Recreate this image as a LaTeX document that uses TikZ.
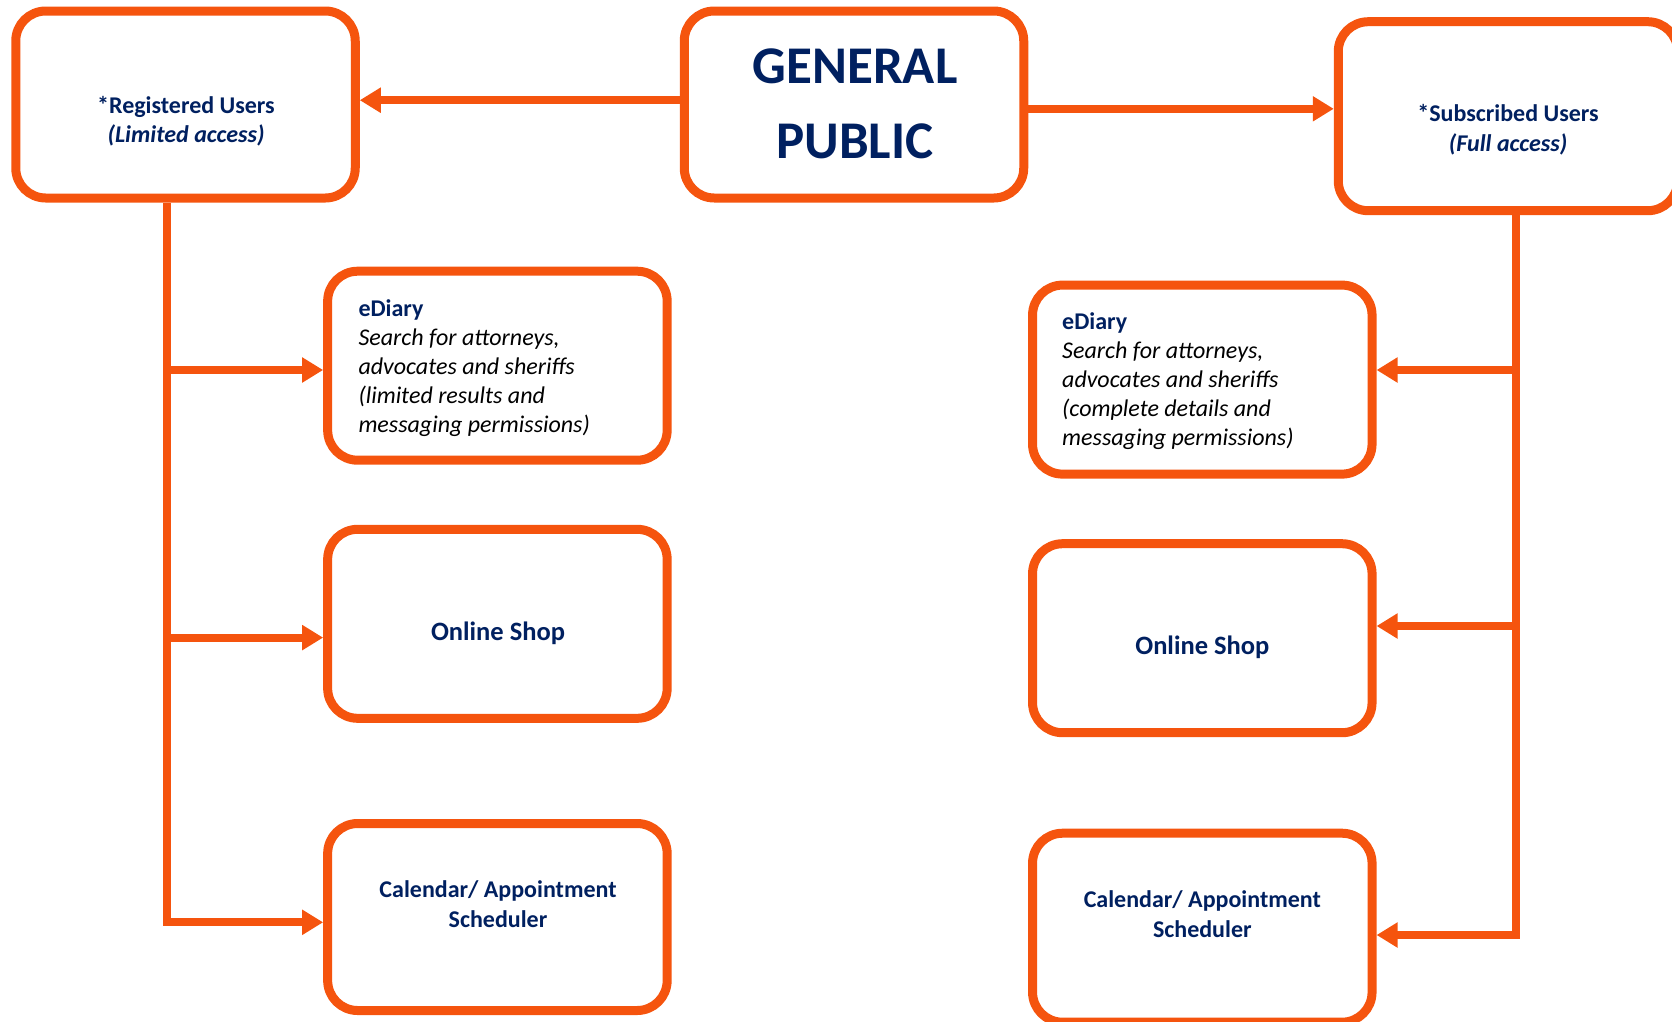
\documentclass[tikz,border=0pt]{standalone}
\usepackage{fontspec}
\setmainfont{Carlito}
\usetikzlibrary{arrows.meta,calc}
\definecolor{orng}{RGB}{245,84,14}
\definecolor{navy}{RGB}{0,32,96}
\begin{document}
\begin{tikzpicture}[x=1pt,y=-1pt,
 box/.style={draw=orng, line width=9pt, rounded corners=30pt, fill=white, minimum width=339.5pt, minimum height=189pt, inner sep=0pt},
 conn/.style={draw=orng, line width=8pt},
 arr/.style={conn, -{Triangle[length=21pt,width=24pt]}},
 lbl/.style={text=navy, font=\bfseries\fontsize{24}{29.3}\selectfont, align=center, inner sep=0pt},
 big/.style={text=navy, font=\bfseries\fontsize{26.5}{32}\selectfont, align=center, inner sep=0pt},
 title/.style={text=navy, font=\bfseries\fontsize{53}{75}\selectfont, align=center, inner sep=0pt},
 body/.style={align=left, font=\fontsize{24}{29}\selectfont, anchor=west, inner sep=0pt}
]
\useasboundingbox (0,0) rectangle (1672,1021);
% boxes
\node[box, minimum height=187pt] (reg) at (185.5,104.5) {};
\node[box, minimum height=187pt] (gp) at (854,104.5) {};
\node[box] (sub) at (1508,116.2) {};
\node[box] (eL) at (497.4,365.7) {};
\node[box] (oL) at (497.4,623.8) {};
\node[box, minimum height=187pt] (cL) at (497.4,917) {};
\node[box] (eR) at (1202.3,379.6) {};
\node[box] (oR) at (1202.3,638.2) {};
\node[box] (cR) at (1202.3,927.7) {};
% texts
\node[lbl] (regT) at (186,121) {*Registered Users\\\textit{(Limited access)}};
\node[title] (gpT) at (855,103.5) {GENERAL\\PUBLIC};
\node[lbl] (subT) at (1508,129.8) {*Subscribed Users\\\textit{(Full access)}};
\node[body] (eLT) at (358.3,367.7) {\textcolor{navy}{\bfseries eDiary}\\\textit{Search for attorneys,}\\\textit{advocates and sheriffs}\\\textit{(limited results and}\\\textit{messaging permissions)}};
\node[body] (eRT) at (1062,381.5) {\textcolor{navy}{\bfseries eDiary}\\\textit{Search for attorneys,}\\\textit{advocates and sheriffs}\\\textit{(complete details and}\\\textit{messaging permissions)}};
\node[big] (oLT) at (498,633) {Online Shop};
\node[big] (oRT) at (1202.3,647) {Online Shop};
\node[lbl] (cLT) at (498,904) {Calendar/ Appointment\\Scheduler};
\node[lbl] (cRT) at (1202.3,914) {Calendar/ Appointment\\Scheduler};
% connectors
\coordinate (jA) at (0,100.2);
\coordinate (jB) at (0,108.8);
\draw[arr] (gp.west |- jA) -- (reg.east |- jA);
\draw[arr] (gp.east |- jB) -- (sub.west |- jB);
\coordinate (lt1) at (167,370);
\coordinate (lt2) at (167,637.6);
\coordinate (lt3) at (167,922.3);
\draw[arr] (reg.south -| lt3) -- (lt3) -- (lt3 -| cL.west);
\draw[arr] (lt1) -- (lt1 -| eL.west);
\draw[arr] (lt2) -- (lt2 -| oL.west);
\coordinate (rt1) at (1516,370);
\coordinate (rt2) at (1516,626);
\coordinate (rt3) at (1516,935);
\draw[arr] (sub.south -| rt3) -- (rt3) -- (rt3 -| cR.east);
\draw[arr] (rt1) -- (rt1 -| eR.east);
\draw[arr] (rt2) -- (rt2 -| oR.east);
\end{tikzpicture}
\end{document}
